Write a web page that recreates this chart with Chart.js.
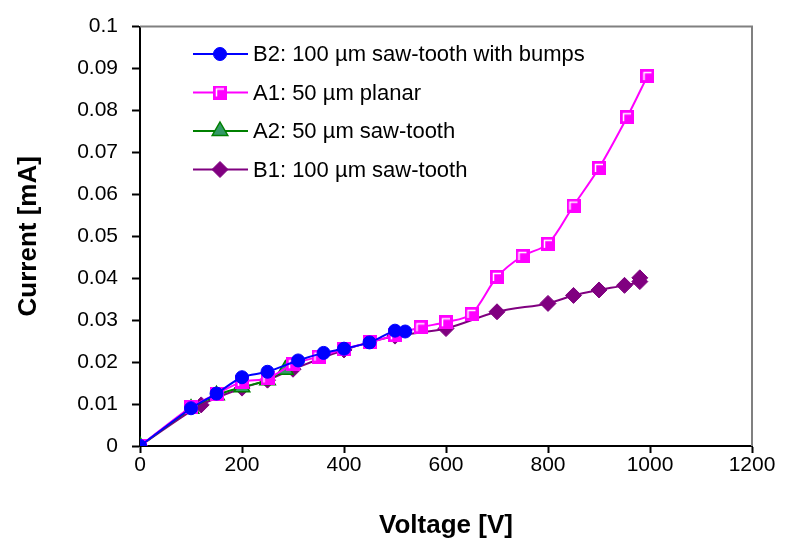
<!DOCTYPE html>
<html>
<head>
<meta charset="utf-8">
<script src="https://cdn.jsdelivr.net/npm/chart.js@4.4.1/dist/chart.umd.min.js"></script>
<style>
  body { margin: 0; background: #fff; }
  #wrap { width: 785px; height: 550px; }
</style>
</head>
<body>
<div id="wrap"><canvas id="chart" width="785" height="550"></canvas></div>
<script>
// 데이터
const b2Volt = [0, 100, 150, 200, 250, 310, 360, 400, 450, 500, 520];
const b2Curr = [0, 0.0090, 0.0125, 0.0164, 0.0177, 0.0204, 0.0222, 0.0232, 0.0247, 0.0275, 0.0273];

const a1Volt = [0, 100, 150, 200, 250, 300, 350, 400, 450, 500, 550, 600, 650, 700, 750, 800, 850, 900, 955, 995];
const a1Curr = [0, 0.0093, 0.0124, 0.0153, 0.0161, 0.0195, 0.0213, 0.0231, 0.0247, 0.0264, 0.0283, 0.0295, 0.0315, 0.0403, 0.0453, 0.0482, 0.0573, 0.0663, 0.0784, 0.0882];

const a2Volt = [0, 100, 150, 200, 250, 285];
const a2Curr = [0, 0.0089, 0.0121, 0.0140, 0.0157, 0.0182];

const b1Volt = [0, 120, 200, 250, 300, 400, 500, 600, 700, 800, 850, 900, 950, 980, 980];
const b1Curr = [0, 0.0098, 0.0138, 0.0157, 0.0183, 0.0229, 0.0262, 0.0280, 0.0320, 0.0340, 0.0359, 0.0372, 0.0383, 0.0392, 0.0401];

const seriesNames = ['B2: 100 µm saw-tooth with bumps', 'A1: 50 µm planar', 'A2: 50 µm saw-tooth', 'B1: 100 µm saw-tooth'];

function toPoints(xs, ys) {
    return xs.map((x, i) => ({ x: x, y: ys[i] }));
}

// 사각형 마커 (안쪽 흰 선)
const SQ = 14;
const sq = document.createElement('canvas');
sq.width = SQ; sq.height = SQ;
(function () {
    const c = sq.getContext('2d');
    c.fillStyle = '#ff00ff';
    c.fillRect(0, 0, SQ, SQ);
    c.strokeStyle = '#ffffff';
    c.lineWidth = 1.5;
    c.beginPath();
    c.moveTo(3.5, SQ - 3);
    c.lineTo(3.5, 3.5);
    c.lineTo(SQ - 3, 3.5);
    c.stroke();
})();

const FONT = 'Arial, "Liberation Sans", sans-serif';

const datasets = [
    { label: seriesNames[0], data: toPoints(b2Volt, b2Curr), borderColor: '#0000ff', backgroundColor: '#0000ff',
      pointStyle: 'circle', pointRadius: 6.5, pointBorderWidth: 1 },
    { label: seriesNames[1], data: toPoints(a1Volt, a1Curr), borderColor: '#ff00ff', backgroundColor: '#ff00ff',
      pointStyle: sq },
    { label: seriesNames[2], data: toPoints(a2Volt, a2Curr), borderColor: '#008000', backgroundColor: '#339966',
      pointStyle: 'triangle', pointRadius: 9, pointBorderWidth: 1.5 },
    { label: seriesNames[3], data: toPoints(b1Volt, b1Curr), borderColor: '#800080', backgroundColor: '#800080',
      pointStyle: 'rectRot', pointRadius: 8, pointBorderWidth: 1 }
];
datasets.forEach(d => { d.showLine = true; d.borderWidth = 2; d.tension = 0.3; d.pointHoverRadius = d.pointRadius; });

// 마커 그리기 (범례용)
function drawMarker(ctx, ds, x, y) {
    ctx.save();
    ctx.fillStyle = ds.backgroundColor;
    ctx.strokeStyle = ds.borderColor;
    ctx.lineWidth = ds.pointBorderWidth || 1;
    const r = ds.pointRadius;
    ctx.beginPath();
    if (ds.pointStyle === 'circle') {
        ctx.arc(x, y, r, 0, Math.PI * 2);
    } else if (ds.pointStyle === 'triangle') {
        ctx.moveTo(x, y - r);
        ctx.lineTo(x + r * 0.866, y + r * 0.5);
        ctx.lineTo(x - r * 0.866, y + r * 0.5);
        ctx.closePath();
    } else if (ds.pointStyle === 'rectRot') {
        ctx.moveTo(x, y - r); ctx.lineTo(x + r, y); ctx.lineTo(x, y + r); ctx.lineTo(x - r, y);
        ctx.closePath();
    } else {
        ctx.drawImage(ds.pointStyle, x - SQ / 2, y - SQ / 2);
        ctx.restore();
        return;
    }
    ctx.fill();
    ctx.stroke();
    ctx.restore();
}

// 범례 + 위/오른쪽 회색 테두리
const customDraw = {
    id: 'customDraw',
    beforeDatasetsDraw(chart) {
        const { ctx, chartArea: a } = chart;
        ctx.save();
        ctx.strokeStyle = '#808080';
        ctx.lineWidth = 2;
        ctx.beginPath();
        ctx.moveTo(a.left, a.top);
        ctx.lineTo(a.right, a.top);
        ctx.lineTo(a.right, a.bottom);
        ctx.stroke();
        ctx.restore();
    },
    afterDraw(chart) {
        const ctx = chart.ctx;
        chart.data.datasets.forEach((ds, i) => {
            const y = 54 + i * 38.5;
            ctx.save();
            ctx.strokeStyle = ds.borderColor;
            ctx.lineWidth = 2;
            ctx.beginPath();
            ctx.moveTo(193, y);
            ctx.lineTo(248, y);
            ctx.stroke();
            ctx.restore();
            drawMarker(ctx, ds, 220, y);
            ctx.save();
            ctx.fillStyle = '#000';
            ctx.font = '22px ' + FONT;
            ctx.textBaseline = 'middle';
            ctx.fillText(ds.label, 253, y + 1);
            ctx.restore();
        });
    }
};

const chart = new Chart(document.getElementById('chart'), {
    type: 'scatter',
    data: { datasets: datasets },
    options: {
        responsive: false,
        animation: false,
        layout: { padding: { top: 16, right: 33, left: 0, bottom: 0 } },
        plugins: { legend: { display: false }, tooltip: { enabled: false } },
        scales: {
            x: {
                min: 0, max: 1200,
                afterFit: s => { s.height = 104; },
                border: { color: '#000', width: 2 },
                grid: { drawOnChartArea: false, drawTicks: true, tickLength: 7, tickColor: '#000', tickWidth: 2 },
                ticks: { stepSize: 200, color: '#000', padding: 0, font: { family: FONT, size: 21 }, maxRotation: 0,
                         callback: v => String(v) },
                title: { display: true, text: 'Voltage [V]', color: '#000', padding: { top: 0, bottom: 9 },
                         font: { family: FONT, size: 26, weight: 'bold' } }
            },
            y: {
                min: 0, max: 0.1,
                afterFit: s => { s.width = 140; },
                border: { color: '#000', width: 2 },
                grid: { drawOnChartArea: false, drawTicks: true, tickLength: 8, tickColor: '#000', tickWidth: 2 },
                ticks: { stepSize: 0.01, color: '#000', padding: 14, font: { family: FONT, size: 21 },
                         callback: v => String(Number(v.toFixed(2))) },
                title: { display: true, text: 'Current [mA]', color: '#000', padding: { top: 13, bottom: 0 },
                         font: { family: FONT, size: 26, weight: 'bold' } }
            }
        }
    },
    plugins: [customDraw]
});
</script>
</body>
</html>
